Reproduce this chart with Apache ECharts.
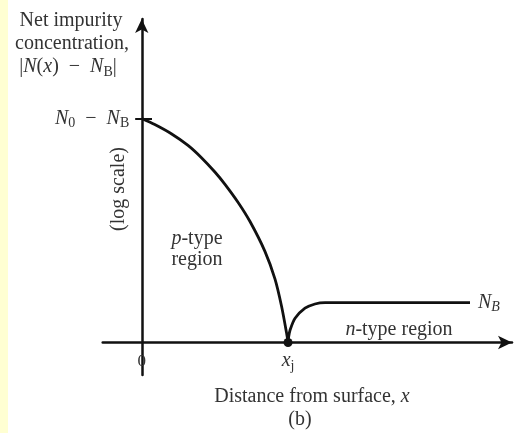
<!DOCTYPE html>
<html>
<head>
<meta charset="utf-8">
<script src="https://cdn.jsdelivr.net/npm/echarts@6/dist/echarts.min.js"></script>
<style>
  html, body { margin: 0; padding: 0; background: #fff; }
  #chart { width: 520px; height: 433px; }
</style>
</head>
<body>
<div id="chart"></div>
<script>
// Distance from surface, in units of the junction depth x_j
const pSideX = [0, 0.089, 0.202, 0.316, 0.41, 0.50, 0.569, 0.660, 0.74, 0.842, 0.911, 0.956, 0.99, 1.0];
// log |N(x) - N_B|, normalised so that N0 - NB = 1 and the axis = 0
const pSideY = [1.0, 0.973, 0.932, 0.880, 0.824, 0.761, 0.706, 0.624, 0.540, 0.407, 0.283, 0.161, 0.042, 0];

const nSideX = [1.0, 1.004, 1.014, 1.048, 1.116, 1.184, 1.253, 2.244];
const nSideY = [0, 0.025, 0.056, 0.108, 0.153, 0.172, 0.178, 0.178];

const junction = [1.0, 0];

const xTickValues = [0, 1];
const xTickLabels = ['{z|0}', '{i|x}{s|j}'];
const yTickValues = [1];
const yTickLabels = ['{i|N}{s|0}\u2002−\u2002{i|N}{s|B}'];

const SERIF = '"Liberation Serif", "DejaVu Serif", serif';
const TEXT = '#333';
const INK = '#111';

const rich = {
  i: { fontStyle: 'italic', fontFamily: SERIF, fontSize: 20, color: TEXT },
  z: { fontFamily: SERIF, fontSize: 17, color: TEXT, padding: [4, 0, 0, 0] },
  s: { fontFamily: SERIF, fontSize: 14, color: TEXT, padding: [10, 0, 0, 0] },
  si: { fontStyle: 'italic', fontFamily: SERIF, fontSize: 14, color: TEXT, padding: [10, 0, 0, 0] }
};
const zrRich = {
  i: { fontStyle: 'italic', fontFamily: SERIF, fontSize: 20, fill: TEXT },
  s: { fontFamily: SERIF, fontSize: 14, fill: TEXT, padding: [10, 0, 0, 0] }
};

function zip(xs, ys) { return xs.map((x, k) => [x, ys[k]]); }

function textEl(x, y, text, extra) {
  return Object.assign({
    type: 'text', x: x, y: y,
    style: {
      text: text, rich: zrRich,
      font: '20px ' + SERIF, fill: TEXT,
      align: 'center', verticalAlign: 'middle'
    }
  }, extra || {});
}

const chart = echarts.init(document.getElementById('chart'));
chart.setOption({
  animation: false,
  backgroundColor: '#fff',
  grid: { left: 102.7, right: 8, top: 19, bottom: 58 },
  xAxis: {
    type: 'value', min: -0.267, max: 2.531,
    splitLine: { show: false },
    axisTick: { show: false },
    axisLabel: { show: false },
    axisLine: {
      onZero: true, symbol: ['none', 'arrow'], symbolSize: [10, 14],
      lineStyle: { color: INK, width: 2.5 }
    }
  },
  yAxis: {
    type: 'value', min: -0.145, max: 1.444,
    splitLine: { show: false },
    axisTick: { show: false },
    axisLabel: { show: false },
    axisLine: {
      onZero: true, symbol: ['none', 'arrow'], symbolSize: [10, 14],
      lineStyle: { color: INK, width: 2.5 }
    }
  },
  series: [
    {
      name: 'p-type', type: 'line', data: zip(pSideX, pSideY),
      smooth: 0.3, showSymbol: false,
      lineStyle: { color: INK, width: 2.8 },
      markLine: {
        silent: true, symbol: 'none', label: { show: false },
        lineStyle: { color: INK, width: 2, type: 'solid' },
        data: [[{ coord: [-0.045, 1] }, { coord: [0.07, 1] }]]
      }
    },
    {
      name: 'n-type', type: 'line', data: zip(nSideX, nSideY),
      smooth: 0.25, showSymbol: false,
      lineStyle: { color: INK, width: 2.8 },
      endLabel: {
        show: true, distance: 8, rich: rich,
        formatter: '{i|N}{si|B}'
      }
    },
    {
      name: 'junction', type: 'scatter', data: [junction],
      symbolSize: 9, itemStyle: { color: INK, opacity: 1 }, z: 5
    },
    {
      // tick labels along the distance axis
      name: 'x ticks', type: 'scatter', symbolSize: 1, silent: true,
      itemStyle: { color: 'transparent', opacity: 1 },
      data: xTickValues.map(v => [v, 0]),
      label: {
        show: true, position: 'bottom', distance: 6, opacity: 1,
        fontFamily: SERIF, fontSize: 18, color: TEXT, rich: rich,
        formatter: p => xTickLabels[p.dataIndex]
      }
    },
    {
      // tick label on the concentration axis
      name: 'y ticks', type: 'scatter', symbolSize: 1, silent: true,
      itemStyle: { color: 'transparent', opacity: 1 },
      data: yTickValues.map(v => [0, v]),
      label: {
        show: true, position: 'left', distance: 12, opacity: 1,
        fontFamily: SERIF, fontSize: 20, color: TEXT, rich: rich,
        formatter: p => yTickLabels[p.dataIndex]
      }
    }
  ],
  graphic: [
    { type: 'rect', shape: { x: 0, y: 0, width: 8, height: 433 }, style: { fill: '#ffffd2' }, z: -10 },
    textEl(71, 21, 'Net impurity'),
    textEl(72, 44, 'concentration,'),
    textEl(68, 67, '|{i|N}({i|x})\u2002−\u2002{i|N}{s|B}|'),
    textEl(119, 189, '(log scale)', { rotation: Math.PI / 2 }),
    textEl(197, 239, '{i|p}-type'),
    textEl(197, 260, 'region'),
    textEl(399, 330, '{i|n}-type region'),
    textEl(312, 397, 'Distance from surface, {i|x}'),
    textEl(300, 420, '(b)')
  ]
});
</script>
</body>
</html>
